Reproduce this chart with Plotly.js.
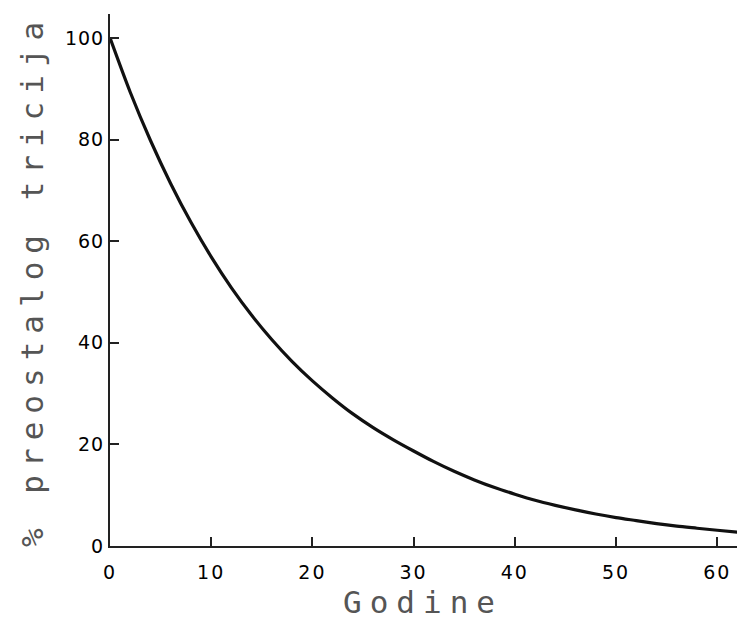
<!DOCTYPE html>
<html>
<head>
<meta charset="utf-8">
<script src="https://cdn.plot.ly/plotly-3.0.1.min.js"></script>
<style>
html, body { margin: 0; padding: 0; background: #fff; }
#chart { width: 737px; height: 623px; }
.annotation-text { letter-spacing: 8px; }
.xtick text { letter-spacing: 2px; }
.ytick text { letter-spacing: 1px; }
</style>
</head>
<body>
<div id="chart"></div>
<script>
// Years and remaining tritium (%)
const years = [0, 2, 4, 6, 8, 10, 12, 14, 16, 18, 20, 22, 24, 26, 28, 30, 32, 34, 36, 38, 40, 42, 44, 46, 48, 50, 52, 54, 56, 58, 60, 62];
const remaining = [100, 89.3, 79.8, 71.3, 63.7, 56.9, 50.8, 45.4, 40.6, 36.3, 32.5, 29.1, 26.0, 23.3, 20.9, 18.7, 16.6, 14.7, 13.0, 11.5, 10.2, 9.0, 8.0, 7.1, 6.3, 5.6, 5.0, 4.4, 3.9, 3.5, 3.1, 2.7];
const xTicks = [0, 10, 20, 30, 40, 50, 60];
const yTicks = [0, 20, 40, 60, 80, 100];
const xTitle = "Godine";
const yTitle = "% preostalog tricija";

const trace = {
  x: years, y: remaining, type: 'scatter', mode: 'lines',
  line: { color: '#111', width: 3.2, shape: 'spline', smoothing: 0.8 },
  hoverinfo: 'skip', showlegend: false, cliponaxis: true
};

const tickFont = { family: 'DejaVu Sans, sans-serif', size: 19, color: '#000' };
const titleFont = { family: 'DejaVu Sans Mono, monospace', size: 31, color: '#555' };

const layout = {
  width: 737, height: 623,
  margin: { l: 110, r: 0, t: 14, b: 77, pad: 0 },
  paper_bgcolor: '#fff', plot_bgcolor: '#fff',
  showlegend: false,
  xaxis: {
    range: [0, 61.95], showgrid: false, zeroline: false,
    showline: true, linecolor: '#222', linewidth: 2,
    ticks: 'inside', ticklen: 9, tickwidth: 2, tickcolor: '#222',
    tickvals: xTicks, ticktext: xTicks.map(String), tickfont: tickFont,
    ticklabelstandoff: 8
  },
  yaxis: {
    range: [0, 104.7], showgrid: false, zeroline: false,
    showline: true, linecolor: '#222', linewidth: 2,
    ticks: 'inside', ticklen: 9, tickwidth: 2, tickcolor: '#222',
    tickvals: yTicks, ticktext: yTicks.map(String), tickfont: tickFont,
    ticklabelstandoff: 0
  },
  annotations: [
    { text: xTitle, xref: 'paper', yref: 'paper', x: 0.5, y: -0.105, xanchor: 'center', yanchor: 'middle',
      showarrow: false, font: titleFont, xshift: -1 },
    { text: yTitle, xref: 'paper', yref: 'paper', x: 0, y: 0.5, xanchor: 'center', yanchor: 'middle',
      showarrow: false, font: titleFont, textangle: -90, xshift: -78, yshift: -1 }
  ]
};

Plotly.newPlot('chart', [trace], layout, { staticPlot: true, displayModeBar: false });
</script>
</body>
</html>
